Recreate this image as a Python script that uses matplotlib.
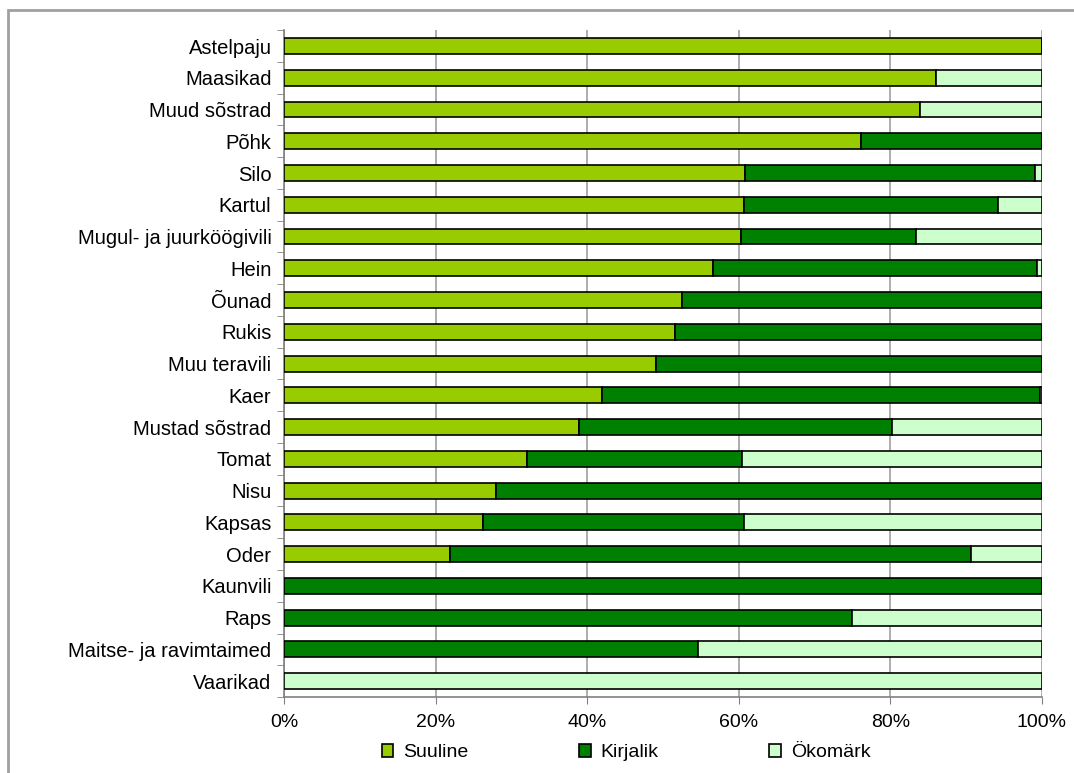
import matplotlib.pyplot as plt
import numpy as np
from matplotlib.patches import Rectangle

plt.rcParams['font.family'] = ['Liberation Sans', 'DejaVu Sans']

# Kultuurid (ülevalt alla)
kultuurid = ['Astelpaju', 'Maasikad', 'Muud sõstrad', 'Põhk', 'Silo', 'Kartul',
             'Mugul- ja juurköögivili', 'Hein', 'Õunad', 'Rukis', 'Muu teravili',
             'Kaer', 'Mustad sõstrad', 'Tomat', 'Nisu', 'Kapsas', 'Oder',
             'Kaunvili', 'Raps', 'Maitse- ja ravimtaimed', 'Vaarikad']

# Osakaalud (%)
suuline = [100, 86.0, 83.9, 76.1, 60.8, 60.7, 60.3, 56.6, 52.5, 51.6, 49.1,
           42.0, 38.9, 32.1, 28.0, 26.3, 21.9, 0, 0, 0, 0]
kirjalik = [0, 0, 0, 23.9, 38.3, 33.5, 23.1, 42.7, 47.5, 48.4, 50.9,
            57.7, 41.3, 28.3, 72.0, 34.4, 68.7, 100, 74.9, 54.6, 0]
okomark = [0, 14.0, 16.1, 0, 0.9, 5.8, 16.6, 0.7, 0, 0, 0,
           0.3, 19.8, 39.6, 0, 39.3, 9.4, 0, 25.1, 45.4, 100]

varvid = ['#99CC00', '#008000', '#CCFFCC']
nimed = ['Suuline', 'Kirjalik', 'Ökomärk']

fig = plt.figure(figsize=(10.74, 7.73), dpi=100)
ax = fig.add_axes([0.2644, 0.0983, 0.7058, 0.8627])

# Raam ümber joonise
fig.patches.append(Rectangle((8 / 1074, -0.1), 1.2, 1 - 10 / 773 + 0.1,
                             transform=fig.transFigure, fill=False,
                             edgecolor='#A0A0A0', linewidth=2, zorder=0))

y = np.arange(len(kultuurid))
vasak = np.zeros(len(kultuurid))
for vaartused, varv, nimi in zip([suuline, kirjalik, okomark], varvid, nimed):
    v = np.array(vaartused) / 100
    ax.barh(y, v, left=vasak, height=0.5, color=varv, edgecolor='black',
            linewidth=1.2, label=nimi, zorder=3)
    vasak += v

ax.set_ylim(len(kultuurid) - 0.5, -0.5)
ax.set_xlim(0, 1)
ax.set_yticks(y)
ax.set_yticklabels(kultuurid, fontsize=14.5)
ax.set_yticks(np.arange(len(kultuurid) + 1) - 0.5, minor=True)
ax.tick_params(axis='y', which='major', length=0, pad=9)
ax.tick_params(axis='y', which='minor', length=5, color='#808080')
ax.set_xticks(np.linspace(0, 1, 6))
ax.set_xticklabels([f'{int(p)}%' for p in np.linspace(0, 100, 6)], fontsize=14)
ax.tick_params(axis='x', length=5, color='#808080', pad=7)

ax.grid(axis='x', color='#A0A0A0', linewidth=1.2, zorder=0)
for s in ['top', 'right']:
    ax.spines[s].set_visible(False)
for s in ['left', 'bottom']:
    ax.spines[s].set_color('#808080')
    ax.spines[s].set_linewidth(1.2)

fig.legend(loc='center', bbox_to_anchor=(0.583, 0.026), ncol=3, frameon=False,
           fontsize=14, handlelength=0.6, handleheight=0.6, columnspacing=5.7,
           handletextpad=0.5)

plt.savefig('out.png', dpi=100)
